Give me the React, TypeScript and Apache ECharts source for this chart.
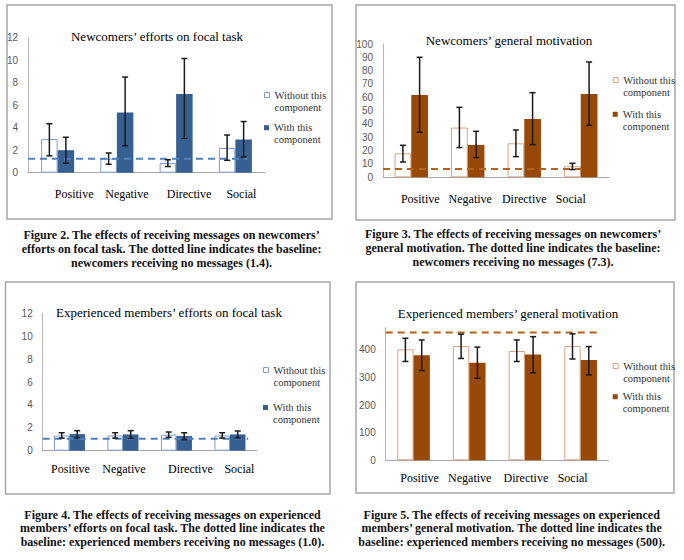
import React, { useEffect, useRef } from 'react';
import * as echarts from 'echarts';

// ---------- data ----------
const categories = ['Positive', 'Negative', 'Directive', 'Social'];
const legendWithout = 'Without this component';
const legendWith = 'With this component';

// Figure 2: newcomers' efforts on focal task
const nfWithout = [3.0, 1.25, 0.85, 2.2];
const nfWithoutErr = [[1.5, 4.35], [0.75, 1.75], [0.55, 1.15], [1.1, 3.35]];
const nfWith = [2.0, 5.35, 7.0, 2.95];
const nfWithErr = [[0.85, 3.15], [2.4, 8.5], [3.05, 10.15], [1.4, 4.55]];
const nfBaseline = 1.25;
const nfBaselineEnd = 3.21;

// Figure 3: newcomers' general motivation
const nmWithout = [18, 37.3, 25.5, 8.3];
const nmWithoutErr = [[11.5, 24], [22.3, 52.5], [15.5, 35.5], [5.8, 10.5]];
const nmWith = [61.8, 24.3, 43.8, 62.5];
const nmWithErr = [[33.8, 90], [14.8, 34.5], [24.5, 63.5], [39, 86.5]];
const nmBaseline = 6.3;
const nmBaselineEnd = 3.04;

// Figure 4: experienced members' efforts on focal task
const efWithout = [1.33, 1.33, 1.4, 1.33];
const efWithoutErr = [[1.1, 1.57], [1.1, 1.57], [1.17, 1.63], [1.1, 1.57]];
const efWith = [1.45, 1.42, 1.28, 1.42];
const efWithErr = [[1.14, 1.75], [1.08, 1.75], [0.96, 1.57], [1.11, 1.72]];
const efBaseline = 1.05;
const efBaselineEnd = 3.34;

// Figure 5: experienced members' general motivation
const emWithout = [402, 414, 396, 414];
const emWithoutErr = [[358, 442], [369, 457], [358, 436], [367, 458]];
const emWith = [381, 353, 383, 363];
const emWithErr = [[325, 436], [297, 410], [317, 448], [309, 412]];
const emBaseline = 463;
const emBaselineEnd = 3.31;

const captions = [
  ['Figure 2. The effects of receiving messages on newcomers’', 'efforts on focal task. The dotted line indicates the baseline:', 'newcomers receiving no messages (1.4).'],
  ['Figure 3. The effects of receiving messages on newcomers’', 'general motivation. The dotted line indicates the baseline:', 'newcomers receiving no messages (7.3).'],
  ['Figure 4. The effects of receiving messages on experienced', 'members’ efforts on focal task. The dotted line indicates the', 'baseline: experienced members receiving no messages (1.0).'],
  ['Figure 5. The effects of receiving messages on experienced', 'members’ general motivation. The dotted line indicates the', 'baseline: experienced members receiving no messages (500).'],
];

// ---------- styles / layout ----------
const SERIF = 'Liberation Serif';
const SANS = 'Liberation Sans';
const palettes: any = {
  blue: { withFill: '#376092', withoutBorder: '#7f9fcf', dash: '#4f81bd' },
  brown: { withFill: '#984807', withoutBorder: '#d9a583', dash: '#b5611a' },
};

const panels = [
  {
    title: 'Newcomers’ efforts on focal task', titleX: 157, titleY: 36,
    grid: { left: 28, top: 37.7, width: 237, height: 135 },
    yMax: 12, yInterval: 2, showMax: true, barWidth: 16.5, labelMargin: 15,
    labelShift: [16.5, 10, 13, 6], palette: 'blue', legendLeft: 264, legendY: [95, 127.7],
    without: nfWithout, withoutErr: nfWithoutErr, with: nfWith, withErr: nfWithErr,
    baseline: nfBaseline, baselineEnd: nfBaselineEnd,
    box: [7, 5, 325, 214], caption: { x: 171.5, y: 249.3, lh: 14 },
  },
  {
    title: 'Newcomers’ general motivation', titleX: 509, titleY: 40,
    grid: { left: 383, top: 44, width: 226, height: 133.3 },
    yMax: 100, yInterval: 10, showMax: true, barWidth: 16.7, labelMargin: 15.5,
    labelShift: [9, 2.5, 0, -10], palette: 'brown', legendLeft: 612.7, legendY: [80, 114.3],
    without: nmWithout, withoutErr: nmWithoutErr, with: nmWith, withErr: nmWithErr,
    baseline: nmBaseline, baselineEnd: nmBaselineEnd,
    box: [356, 5, 319, 215], caption: { x: 513, y: 248.3, lh: 14 },
  },
  {
    title: 'Experienced members’ efforts on focal task', titleX: 169, titleY: 312,
    grid: { left: 42.7, top: 313.3, width: 214, height: 137.4 },
    yMax: 12, yInterval: 2, showMax: true, barWidth: 15.5, labelMargin: 12,
    labelShift: [1, 1, 14, 9.5], palette: 'blue', legendLeft: 263, legendY: [370, 407.5],
    without: efWithout, withoutErr: efWithoutErr, with: efWith, withErr: efWithErr,
    baseline: efBaseline, baselineEnd: efBaselineEnd,
    box: [5.5, 282, 324.5, 212], caption: { x: 172.5, y: 528.3, lh: 13.4 },
  },
  {
    title: 'Experienced members’ general motivation', titleX: 508, titleY: 313,
    grid: { left: 385.7, top: 327.8, width: 222.8, height: 132.5 },
    yMax: 480, yInterval: 100, showMax: false, barWidth: 16.3, labelMargin: 11.5,
    labelShift: [6, 0.5, 1, -8], palette: 'brown', legendLeft: 612.7, legendY: [366, 396.7],
    without: emWithout, withoutErr: emWithoutErr, with: emWith, withErr: emWithErr,
    baseline: emBaseline, baselineEnd: emBaselineEnd,
    box: [356, 282, 318, 211], caption: { x: 511.7, y: 528.3, lh: 13.4 },
  },
];

const LEGEND_LH = 12.3;

function errorSeries(gi: number, data: number[][], offset: number) {
  return {
    type: 'custom',
    xAxisIndex: gi * 2,
    yAxisIndex: gi,
    z: 6,
    silent: true,
    data: data.map((d, i) => [i, d[0], d[1]]),
    encode: { x: 0, y: [1, 2] },
    renderItem: (params: any, api: any) => {
      const i = api.value(0);
      const top = api.coord([i, api.value(2)]);
      const bot = api.coord([i, api.value(1)]);
      const x = top[0] + offset;
      const st = { stroke: '#1a1a1a', lineWidth: 1.5 };
      return {
        type: 'group',
        children: [
          { type: 'line', shape: { x1: x, y1: top[1], x2: x, y2: bot[1] }, style: st },
          { type: 'line', shape: { x1: x - 3, y1: top[1], x2: x + 3, y2: top[1] }, style: st },
          { type: 'line', shape: { x1: x - 3, y1: bot[1], x2: x + 3, y2: bot[1] }, style: st },
        ],
      };
    },
  };
}

function buildOption() {
  const grid: any[] = [];
  const xAxis: any[] = [];
  const yAxis: any[] = [];
  const series: any[] = [];
  const title: any[] = [];
  const legend: any[] = [];
  const graphic: any[] = [];

  panels.forEach((p, gi) => {
    const pal = palettes[p.palette];
    grid.push({ ...p.grid, containLabel: false });
    const rich: any = {};
    p.labelShift.forEach((s, i) => {
      rich['l' + i] = {
        fontFamily: SERIF, fontSize: 12, color: '#000',
        padding: s >= 0 ? [0, 0, 0, 2 * s] : [0, -2 * s, 0, 0],
      };
    });
    xAxis.push({
      type: 'category', gridIndex: gi, data: categories,
      axisLine: { onZero: false, lineStyle: { color: '#a6a6a6', width: 1 } },
      axisTick: { show: false },
      axisLabel: {
        margin: p.labelMargin, interval: 0,
        fontFamily: SERIF, fontSize: 12, color: '#000',
        formatter: (v: string, i: number) => `{l${i}|${v}}`,
        rich,
      },
    });
    xAxis.push({ type: 'value', gridIndex: gi, min: -0.5, max: 3.5, show: false });
    yAxis.push({
      type: 'value', gridIndex: gi, min: 0, max: p.yMax, interval: p.yInterval,
      axisLine: { show: true, onZero: false, lineStyle: { color: '#b8b8b8', width: 1 } },
      axisTick: { show: false },
      splitLine: { show: false },
      axisLabel: {
        fontFamily: SANS, fontSize: 10, color: '#595959', margin: 10,
        showMaxLabel: p.showMax,
      },
    });
    series.push({
      type: 'bar', name: legendWithout, xAxisIndex: gi * 2, yAxisIndex: gi,
      data: p.without, barWidth: p.barWidth, barGap: '0%', z: 2,
      itemStyle: { color: '#ffffff', borderColor: pal.withoutBorder, borderWidth: 1 },
    });
    series.push({
      type: 'bar', name: legendWith, xAxisIndex: gi * 2, yAxisIndex: gi,
      data: p.with, barWidth: p.barWidth, barGap: '0%', z: 2,
      itemStyle: { color: pal.withFill },
    });
    series.push({
      type: 'line', xAxisIndex: gi * 2 + 1, yAxisIndex: gi, z: 4, silent: true,
      data: [[-0.5, p.baseline], [p.baselineEnd, p.baseline]],
      symbol: 'none',
      lineStyle: { color: pal.dash, width: 2, type: [7, 5] },
    });
    series.push(errorSeries(gi, p.withoutErr, -p.barWidth / 2));
    series.push(errorSeries(gi, p.withErr, p.barWidth / 2));

    title.push({
      text: p.title, left: p.titleX, top: p.titleY - 8, textAlign: 'center', padding: 0,
      textStyle: { fontFamily: SERIF, fontSize: 13, fontWeight: 'normal', color: '#000', lineHeight: 16 },
    });

    const items = [
      { name: legendWithout, itemStyle: { color: '#ffffff', borderColor: pal.withoutBorder, borderWidth: 1 } },
      { name: legendWith, itemStyle: { color: pal.withFill, borderWidth: 0 } },
    ];
    items.forEach((it, k) => {
      legend.push({
        orient: 'vertical', left: p.legendLeft, top: p.legendY[k] - 1.5 * LEGEND_LH,
        padding: 0, itemWidth: 5, itemHeight: 5, icon: 'rect', selectedMode: false,
        data: [it],
        formatter: (n: string) => (n === legendWithout ? ' \nWithout this\ncomponent' : ' \nWith this\ncomponent'),
        textStyle: { fontFamily: SERIF, fontSize: 10.5, lineHeight: LEGEND_LH, color: '#333' },
      });
    });

    graphic.push({
      type: 'rect', silent: true, z: -1,
      shape: { x: p.box[0], y: p.box[1], width: p.box[2], height: p.box[3] },
      style: { fill: 'none', stroke: '#a6a6a6', lineWidth: 1.5 },
    });
    graphic.push({
      type: 'text', silent: true,
      x: p.caption.x, y: p.caption.y,
      style: {
        text: captions[gi].join('\n'),
        align: 'center', verticalAlign: 'middle',
        fontFamily: SERIF, fontSize: 12, fontWeight: 'bold', lineHeight: p.caption.lh,
        fill: '#111',
      },
    });
  });

  return {
    animation: false,
    backgroundColor: '#ffffff',
    grid, xAxis, yAxis, series, title, legend, graphic,
  };
}

export default function App() {
  const ref = useRef<HTMLDivElement>(null);
  useEffect(() => {
    document.body.style.margin = '0';
    const chart = echarts.init(ref.current!, null, { renderer: 'svg' });
    chart.setOption(buildOption() as any);
    return () => chart.dispose();
  }, []);
  return <div ref={ref} style={{ position: 'absolute', left: 0, top: 0, width: 684, height: 560 }} />;
}
